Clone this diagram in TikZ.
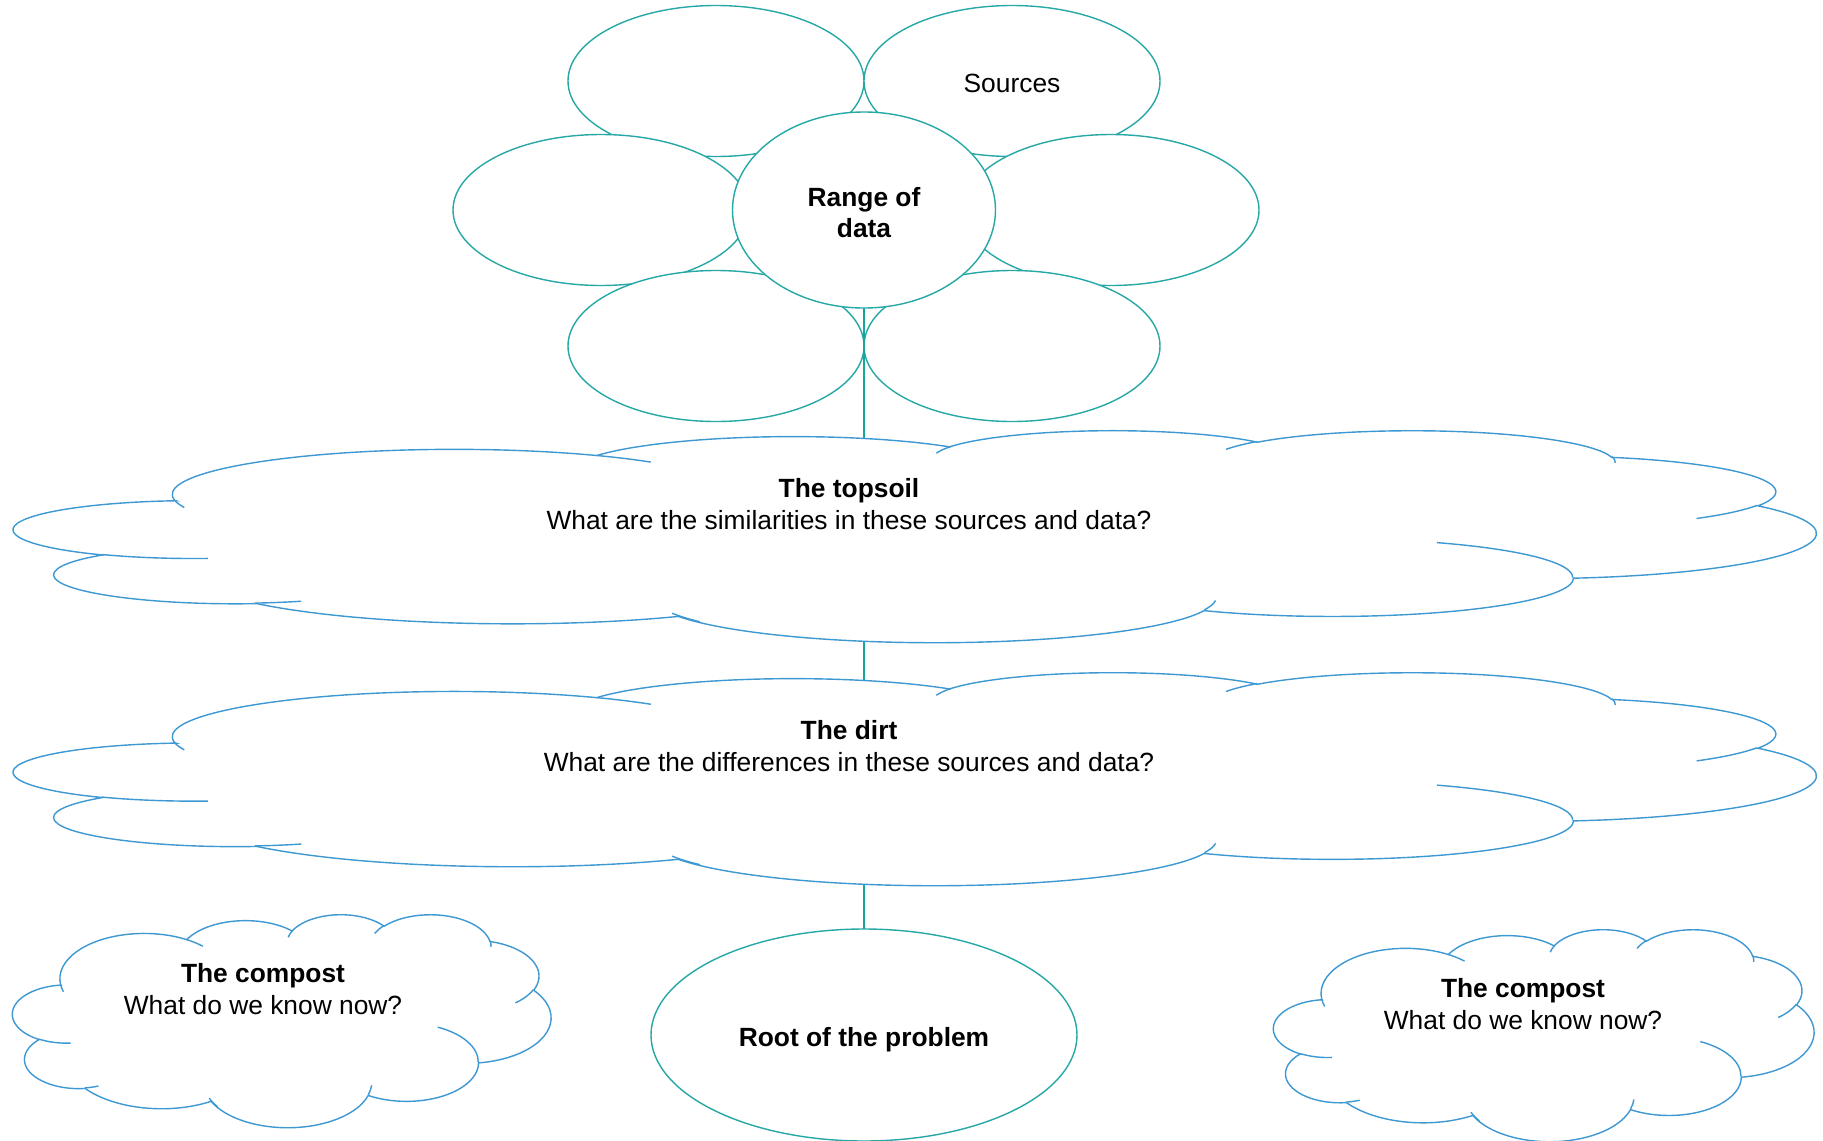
\documentclass[tikz,border=0pt]{standalone}
\usepackage{fontspec}
\setmainfont{Liberation Sans}
\usetikzlibrary{shapes.geometric}
\definecolor{petalc}{RGB}{38,168,166}
\definecolor{stemc}{RGB}{22,166,156}
\definecolor{cloudc}{RGB}{62,152,210}
\pgfdeclarelayer{petallayer}
\pgfdeclarelayer{stemlayer}
\pgfsetlayers{petallayer,stemlayer,main}
\tikzset{
  oarc/.code n args={4}{%
    \pgfmathsetmacro\oarcS{atan2((#1)*sin(#3),(#2)*cos(#3))}%
    \pgfmathsetmacro\oarcE{atan2((#1)*sin((#3)+(#4)),(#2)*cos((#3)+(#4)))}%
    \pgfmathsetmacro\oarcD{mod(\oarcE-\oarcS+720,360)}%
    \edef\oarcnext{\noexpand\pgfkeysalso{x radius=#1,y radius=#2,start angle=\oarcS,delta angle=\oarcD}}\oarcnext},
  petal/.style={ellipse, draw=petalc, fill=white, line width=0.8pt, inner sep=0pt,
    minimum width={296*0.02cm}, minimum height={151*0.02cm}},
  hub/.style={ellipse, draw=petalc, fill=white, line width=0.8pt, inner sep=0pt,
    minimum width={263*0.02cm}, minimum height={196*0.02cm}, font=\txtfont\bfseries},
  rootbox/.style={ellipse, draw=petalc, fill=white, line width=0.8pt, inner sep=0pt,
    minimum width={426*0.02cm}, minimum height={212*0.02cm}, font=\txtfont\bfseries},
  cloudbody/.style={draw=cloudc, fill=white, line width=0.8pt, line join=miter},
  cloudstub/.style={draw=cloudc, line width=0.8pt},
  txt/.style={align=center, inner sep=0pt, font=\txtfont},
  stemline/.style={draw=stemc, line width=1.5pt}
}
\newcommand\txtfont{\fontsize{15pt}{18pt}\selectfont}
\newcommand\lowered[2]{\raisebox{-#1}[\height][\depth]{#2}}
\newcommand\pptcloud[4]{%
  \pgfmathsetmacro\cldx{#3*0.569055/432}%
  \pgfmathsetmacro\cldy{-#4*0.569055/432}%
  \begin{scope}[shift={(#1,#2)}, x=\cldx pt, y=\cldy pt]
    \draw[cloudbody] (39.00,143.70)
      arc[oarc={67.53}{91.90}{-190.4875}{123.7805}]
      arc[oarc={53.33}{72.67}{-144.1024}{89.9452}]
      arc[oarc={43.65}{59.45}{-145.8079}{99.7230}]
      arc[oarc={48.57}{65.95}{-130.9861}{117.2417}]
      arc[oarc={53.33}{72.73}{-78.7089}{109.0269}]
      arc[oarc={67.75}{92.20}{-46.2673}{130.2690}]
      arc[oarc={57.85}{78.67}{0.6250}{114.0333}]
      arc[oarc={67.52}{92.15}{22.4627}{125.3707}]
      arc[oarc={77.20}{105.43}{66.2426}{67.3777}]
      arc[oarc={43.60}{59.18}{-274.9421}{146.7356}]
      arc[oarc={43.45}{59.45}{-246.8285}{152.5189}]
      -- cycle;
    \draw[cloudstub]
      (46.93,261.77) arc[oarc={43.45}{59.45}{86.7420}{26.4295}]
      (69.28,348.99) arc[oarc={43.60}{59.18}{73.6105}{11.4475}]
      (164.78,390.90) arc[oarc={67.52}{92.15}{137.6242}{14.0811}]
      (288.27,347.51) arc[oarc={67.52}{92.15}{6.4533}{15.9984}]
      (341.29,229.54) arc[oarc={57.85}{78.67}{-70.2924}{70.9174}]
      (417.98,153.54) arc[oarc={53.33}{72.73}{30.3180}{27.7515}]
      (383.24,54.26) arc[oarc={48.57}{65.95}{-13.7443}{14.8589}]
      (290.78,39.52) arc[oarc={48.57}{65.95}{-149.1815}{18.1954}]
      (221.41,47.20) arc[oarc={43.65}{59.45}{-163.4943}{17.6864}]
      (140.00,51.92) arc[oarc={67.53}{91.90}{-66.7070}{12.3194}]
      (41.27,157.89) arc[oarc={67.53}{91.90}{157.6544}{11.8582}];
  \end{scope}}
\begin{document}
\begin{tikzpicture}[x=0.02cm, y=-0.02cm]
  \useasboundingbox (0,0) rectangle (1823,1140);
  \begin{pgfonlayer}{petallayer}
    \node[petal] (pTL) at (716,81) {};
    \node[petal] (pTR) at (1012,81) {\txtfont\lowered{0.046cm}{Sources}};
    \node[petal] (pML) at (601,210) {};
    \node[petal] (pMR) at (1111,210) {};
    \node[petal] (pBL) at (716,346) {};
    \node[petal] (pBR) at (1012,346) {};
  \end{pgfonlayer}
  \node[hub] (range) at (864,210) {\lowered{0.115cm}{\begin{tabular}{@{}c@{}}Range of\\data\end{tabular}}};
  \pptcloud{12}{430}{1804}{212}
  \node[txt] (topsoil) at (849,504) {\textbf{The topsoil}\\What are the similarities in these sources and data?};
  \pptcloud{12}{672}{1804}{213}
  \node[txt] (dirt) at (849,746) {\textbf{The dirt}\\What are the differences in these sources and data?};
  \pptcloud{12}{914}{539}{213}
  \node[txt] (compostL) at (263,989) {\textbf{The compost}\\What do we know now?};
  \pptcloud{1273}{929}{541}{212}
  \node[txt] (compostR) at (1523,1004) {\textbf{The compost}\\What do we know now?};
  \node[rootbox] (root) at (864,1035) {\lowered{0.092cm}{Root of the problem}};
  \begin{pgfonlayer}{stemlayer}
    \draw[stemline] (range.center) -- (root.center);
  \end{pgfonlayer}
\end{tikzpicture}
\end{document}
